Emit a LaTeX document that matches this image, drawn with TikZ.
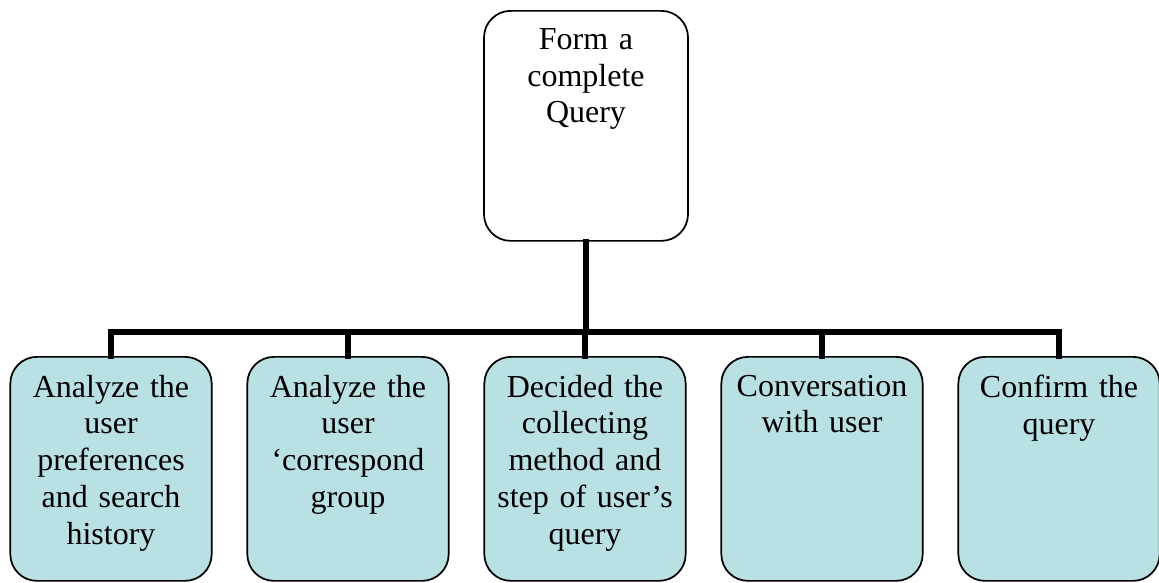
\documentclass[tikz,border=0pt]{standalone}
\usepackage{fontspec}
\setmainfont{Liberation Serif}
\definecolor{boxfill}{RGB}{185,224,227}
\begin{document}
\begin{tikzpicture}[x=0.75pt,y=-0.75pt,
  topbox/.style={draw=black,line width=1.3pt,rounded corners=20pt,fill=white,minimum width=153pt,minimum height=172.5pt,anchor=north,inner sep=0pt},
  subbox/.style={draw=black,line width=1.3pt,rounded corners=20pt,fill=boxfill,minimum width=151pt,minimum height=168pt,anchor=north,inner sep=0pt},
  txt/.style={font=\fontsize{24pt}{27.6pt}\selectfont,align=center,text width=145pt,anchor=north,inner sep=0pt},
  conn/.style={line width=3.8pt,line join=miter,line cap=rect}]
\useasboundingbox (0,0) rectangle (1159,582);
\node[topbox] (top) at (586,10) {};
\node[txt] (toptxt) at ([yshift=-13.5pt]top.north) {Form a\\complete\\Query};
\node[subbox] (b1) at (111,356) {};
\node[subbox] (b2) at (348,356) {};
\node[subbox] (b3) at (585,356) {};
\node[subbox] (b4) at (822,356) {};
\node[subbox] (b5) at (1059,356) {};
\node[txt] (t1) at ([yshift=-14pt]b1.north) {Analyze the\\user\\preferences\\and search\\history};
\node[txt] (t2) at ([yshift=-14pt]b2.north) {Analyze the\\user\\‘correspond\\group};
\node[txt] (t3) at ([yshift=-14pt]b3.north) {Decided the\\collecting\\method and\\step of user’s\\query};
\node[txt] (t4) at ([yshift=-14pt]b4.north) {Conversation\\with user};
\node[txt] (t5) at ([yshift=-14pt]b5.north) {Confirm the\\query};
\coordinate (bar) at (586,332);
\draw[conn] (b1.north) |- (b5.north |- bar) -- (b5.north);
\draw[conn] (top.south) -- (top.south |- bar);
\draw[conn] (b2.north) -- (b2.north |- bar);
\draw[conn] (b3.north) -- (b3.north |- bar);
\draw[conn] (b4.north) -- (b4.north |- bar);
\end{tikzpicture}
\end{document}
